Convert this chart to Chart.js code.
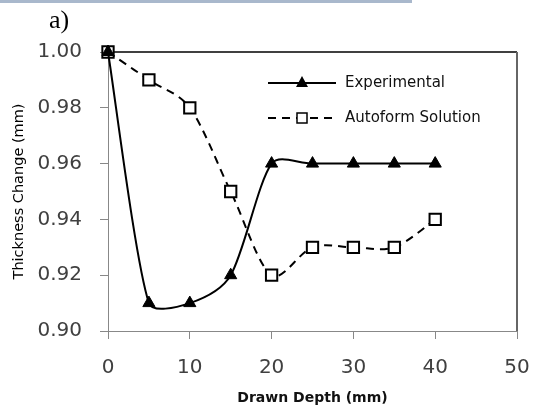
<!DOCTYPE html>
<html>
<head>
<meta charset="utf-8">
<script src="https://cdn.jsdelivr.net/npm/chart.js@4.4.0/dist/chart.umd.min.js"></script>
<style>
  body { margin: 0; background: #fff; }
  #wrap { position: relative; width: 533px; height: 410px; }
  #strip { position: absolute; left: 0; top: 0; width: 412px; height: 3px; background: #a9b8cc; }
  #panel { position: absolute; left: 49px; top: 6px; font: 26px "Liberation Serif", serif; line-height: 28px; color: #000; }
</style>
</head>
<body>
<div id="wrap">
  <canvas id="chart" width="533" height="410"></canvas>
  <div id="strip"></div>
  <div id="panel">a)</div>
</div>
<script>
const depth = [0, 5, 10, 15, 20, 25, 30, 35, 40];
const experimental = [1.00, 0.91, 0.91, 0.92, 0.96, 0.96, 0.96, 0.96, 0.96];
const autoform = [1.00, 0.99, 0.98, 0.95, 0.92, 0.93, 0.93, 0.93, 0.94];
const xTicks = [0, 10, 20, 30, 40, 50];
const yTicks = [0.90, 0.92, 0.94, 0.96, 0.98, 1.00];
const seriesNames = ['Experimental', 'Autoform Solution'];

const toPoints = vals => vals.map((v, i) => ({ x: depth[i], y: v }));

// Excel-ish smoothing: catmull-rom arms, shortened next to a short segment
const excelSmooth = {
  id: 'excelSmooth',
  beforeDatasetDraw(chart, args) {
    const meta = args.meta;
    meta.dataset.updateControlPoints(chart.chartArea, meta.indexAxis);
    const pts = meta.data;
    pts.forEach((p, i) => {
      const prev = pts[i - 1] || p;
      const next = pts[i + 1] || p;
      const d01 = Math.hypot(p.x - prev.x, p.y - prev.y);
      const d12 = Math.hypot(next.x - p.x, next.y - p.y);
      const wIn = d12 > 0 ? Math.min(1, 1.5 * d01 / d12) : 1;
      const wOut = d01 > 0 ? Math.min(1, 1.5 * d12 / d01) : 1;
      const dx = (next.x - prev.x) / 6;
      const dy = (next.y - prev.y) / 6;
      p.cp1x = p.x - dx * wIn;
      p.cp1y = p.y - dy * wIn;
      p.cp2x = p.x + dx * wOut;
      p.cp2y = p.y + dy * wOut;
    });
  }
};

// frame on top and right of the plot area
const frame = {
  id: 'frame',
  beforeDatasetsDraw(chart) {
    const { ctx, chartArea: a } = chart;
    ctx.save();
    ctx.strokeStyle = '#000';
    ctx.lineWidth = 1.5;
    ctx.beginPath();
    ctx.moveTo(a.left, a.top);
    ctx.lineTo(a.right, a.top);
    ctx.stroke();
    ctx.strokeStyle = '#666';
    ctx.lineWidth = 2;
    ctx.beginPath();
    ctx.moveTo(a.right, a.top);
    ctx.lineTo(a.right, a.bottom);
    ctx.stroke();
    ctx.restore();
  }
};

// legend like Excel: line with marker in the middle
const legendBox = {
  id: 'legendBox',
  afterDraw(chart) {
    const ctx = chart.ctx;
    const rows = [
      { y: 83, dash: [], style: 'triangle' },
      { y: 118, dash: [8, 6], style: 'square' }
    ];
    ctx.save();
    rows.forEach((r, i) => {
      ctx.strokeStyle = '#000';
      ctx.lineWidth = 2;
      ctx.setLineDash(r.dash);
      ctx.beginPath();
      ctx.moveTo(268, r.y);
      ctx.lineTo(336, r.y);
      ctx.stroke();
      ctx.setLineDash([]);
      if (r.style === 'triangle') {
        ctx.fillStyle = '#000';
        ctx.beginPath();
        ctx.moveTo(302, r.y - 7);
        ctx.lineTo(308, r.y + 4);
        ctx.lineTo(296, r.y + 4);
        ctx.closePath();
        ctx.fill();
      } else {
        ctx.fillStyle = '#fff';
        ctx.fillRect(297, r.y - 5, 10, 10);
        ctx.lineWidth = 1.5;
        ctx.strokeRect(297, r.y - 5, 10, 10);
      }
      ctx.fillStyle = '#111';
      ctx.font = '15px "DejaVu Sans"';
      ctx.textBaseline = 'middle';
      ctx.fillText(seriesNames[i], 345, r.y);
    });
    ctx.restore();
  }
};

new Chart(document.getElementById('chart'), {
  type: 'line',
  data: {
    datasets: [
      {
        label: seriesNames[0],
        data: toPoints(experimental),
        borderColor: '#000',
        backgroundColor: '#000',
        borderWidth: 2,
        tension: 0.3,
        pointStyle: 'triangle',
        pointRadius: 7,
        pointBorderWidth: 1,
        clip: false
      },
      {
        label: seriesNames[1],
        data: toPoints(autoform),
        borderColor: '#000',
        backgroundColor: '#fff',
        borderWidth: 2,
        borderDash: [8, 6],
        tension: 0.3,
        pointStyle: 'rect',
        pointRadius: 8,
        pointBorderWidth: 2,
        clip: false
      }
    ]
  },
  options: {
    responsive: false,
    animation: false,
    layout: { padding: { left: 0, top: 52, right: 16, bottom: 0 } },
    plugins: { legend: { display: false }, tooltip: { enabled: false } },
    scales: {
      x: {
        type: 'linear',
        min: 0,
        max: 50,
        afterBuildTicks: s => { s.ticks = xTicks.map(v => ({ value: v })); },
        afterFit: s => { s.height = 79; s.paddingLeft = 0; s.paddingRight = 0; },
        grid: { drawOnChartArea: false, drawTicks: true, tickLength: 8, color: '#888' },
        border: { color: '#888', width: 1 },
        ticks: { padding: 17, color: '#404040', font: { family: 'DejaVu Sans', size: 20 }, maxRotation: 0 },
        title: {
          display: true,
          text: 'Drawn Depth (mm)',
          color: '#111',
          font: { family: 'DejaVu Sans', size: 14, weight: 'bold' },
          padding: { top: 0, bottom: 3 }
        }
      },
      y: {
        min: 0.90,
        max: 1.00,
        afterBuildTicks: s => { s.ticks = yTicks.map(v => ({ value: v })); },
        afterFit: s => { s.width = 108; s.paddingTop = 0; s.paddingBottom = 0; },
        grid: { drawOnChartArea: false, drawTicks: true, tickLength: 8, color: '#888' },
        border: { color: '#888', width: 1 },
        ticks: {
          padding: 18,
          color: '#404040',
          font: { family: 'DejaVu Sans', size: 20 },
          callback: v => v.toFixed(2)
        },
        title: {
          display: true,
          text: 'Thickness Change (mm)',
          color: '#000',
          font: { family: 'DejaVu Sans', size: 14.5 },
          padding: { top: 11, bottom: 0 }
        }
      }
    }
  },
  plugins: [excelSmooth, frame, legendBox]
});
</script>
</body>
</html>
